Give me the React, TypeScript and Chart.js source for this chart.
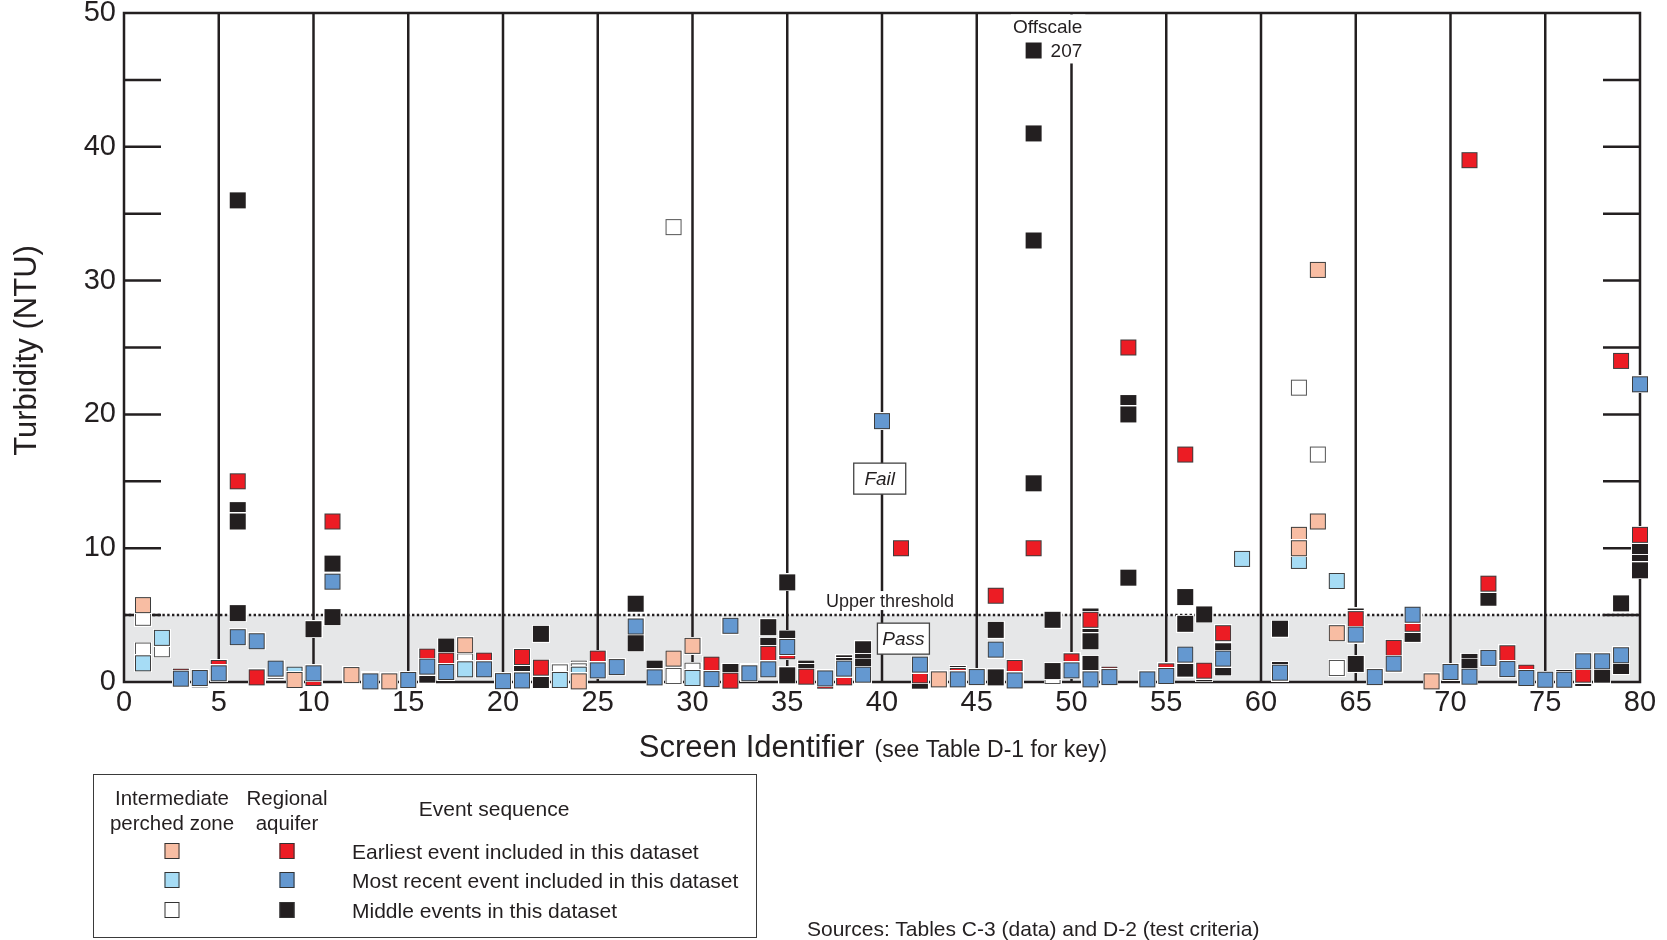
import React, { useEffect, useRef } from "react";
import { Chart, registerables } from "chart.js";

Chart.register(...registerables);

// ---------- data ----------
type Pt = [number, number]; // [screen identifier, turbidity (NTU)]

const screenMin = 0;
const screenMax = 80;
const screenTickStep = 5;
const turbidityMin = 0;
const turbidityMax = 50;
const turbidityTickStep = 10;
const turbidityMinorStep = 5;
const dividerScreens = [5, 10, 15, 20, 25, 30, 35, 40, 45, 50, 55, 60, 65, 70, 75];
const upperThreshold = 5;
const offscaleScreen = 48;
const offscalePlotted = 47.2;
const offscaleActual = 207;

// Intermediate perched zone
const perchedEarliest: Pt[] = [
  [1, 5.75], [9, 0.15], [12, 0.52], [14, 0.05], [18, 2.75], [24, 0.05], [29, 1.75],
  [30, 2.7], [43, 0.2], [62, 11], [62, 10], [63, 30.8], [63, 12], [64, 3.65], [69, 0.05],
];
const perchedRecent: Pt[] = [
  [1, 1.4], [2, 3.3], [9, 0.55], [18, 0.95], [23, 0.15], [24, 0.55], [30, 0.3],
  [59, 9.2], [62, 9.05], [64, 7.55],
];
const perchedMiddle: Pt[] = [
  [1, 4.8], [1, 2.35], [2, 2.45], [18, 1.55], [23, 0.72], [24, 1.0], [24, 0.8],
  [29, 34], [29, 0.8], [29, 0.45], [30, 0.85], [49, 0.45], [62, 22], [63, 17], [64, 1.05],
];

// Regional aquifer
const regionalEarliest: Pt[] = [
  [3, 0.4], [4, 0.2], [5, 1.05], [6, 15], [7, 0.35], [10, 0.3], [11, 12], [16, 1.9],
  [17, 1.6], [19, 1.6], [21, 1.87], [22, 1.07], [25, 1.75], [31, 1.3], [32, 0.1],
  [33, 0.75], [34, 2.1], [35, 2.3], [36, 0.4], [37, 0.1], [38, 0.35], [41, 10],
  [42, 0.5], [44, 0.45], [46, 6.45], [47, 1.05], [48, 10], [50, 1.55], [51, 4.65],
  [52, 0.55], [53, 25], [55, 0.8], [56, 17], [57, 0.85], [58, 3.65], [65, 4.7],
  [67, 2.55], [68, 4.35], [71, 39], [72, 7.35], [73, 2.15], [74, 0.7], [77, 0.55],
  [79, 24], [80, 11],
];
const regionalRecent: Pt[] = [
  [3, 0.25], [4, 0.3], [5, 0.65], [6, 3.35], [7, 3.05], [8, 1.0], [10, 0.65], [11, 7.5],
  [13, 0.05], [15, 0.15], [16, 1.15], [17, 0.75], [19, 0.95], [20, 0.07], [21, 0.12],
  [25, 0.87], [26, 1.12], [27, 4.15], [28, 0.35], [31, 0.22], [32, 4.2], [33, 0.65],
  [34, 0.95], [35, 2.62], [37, 0.27], [38, 1.0], [39, 0.55], [40, 19.5], [42, 1.3],
  [44, 0.2], [45, 0.37], [46, 2.42], [47, 0.12], [50, 0.87], [51, 0.2], [52, 0.37],
  [54, 0.2], [55, 0.45], [56, 2.05], [58, 1.75], [61, 0.7], [65, 3.55], [66, 0.37],
  [67, 1.37], [68, 5.03], [70, 0.75], [71, 0.4], [72, 1.8], [73, 0.97], [74, 0.3],
  [75, 0.17], [76, 0.17], [77, 1.55], [78, 1.55], [79, 2.0], [80, 22.25],
];
const regionalMiddle: Pt[] = [
  [6, 36], [6, 12.85], [6, 12.0], [6, 5.15], [8, 0.85], [10, 3.95], [11, 8.85], [11, 4.85],
  [13, 0.15], [16, 0.55], [17, 2.65], [21, 0.67], [22, 3.6], [22, 0.55], [22, 0.15],
  [27, 5.85], [27, 2.9], [28, 1.0], [32, 0.75], [34, 4.1], [34, 2.7], [35, 7.45],
  [35, 3.25], [35, 0.5], [36, 1.0], [36, 0.75], [38, 1.4], [38, 1.2], [39, 2.45],
  [39, 1.5], [39, 1.15], [42, 0.1], [44, 0.6], [46, 3.9], [46, 0.35],
  [offscaleScreen, offscalePlotted], [48, 41], [48, 33], [48, 14.85], [49, 4.65], [49, 0.82],
  [51, 4.9], [51, 4.3], [51, 3.05], [51, 1.35], [53, 20.85], [53, 20.0], [53, 7.8],
  [56, 6.35], [56, 4.35], [56, 1.0], [57, 5.05], [57, 0.65], [58, 2.3], [58, 1.1],
  [61, 3.98], [61, 0.9], [65, 4.9], [65, 1.35], [68, 3.6], [71, 1.5], [71, 1.15],
  [72, 6.3], [76, 0.3], [77, 0.3], [78, 0.55], [79, 5.88], [79, 1.2], [80, 10.15],
  [80, 8.9], [80, 8.35],
];

const zoneHeaders = ["Intermediate\nperched zone", "Regional\naquifer"];
const sequenceHeader = "Event sequence";
const sequenceLabels = [
  "Earliest event included in this dataset",
  "Most recent event included in this dataset",
  "Middle events in this dataset",
];
const yTitle = "Turbidity (NTU)";
const xTitleMain = "Screen Identifier";
const xTitleNote = "(see Table D-1 for key)";
const sourcesText = "Sources: Tables C-3 (data) and D-2 (test criteria)";

// ---------- styles ----------
const FONT = '"Liberation Sans", Arial, Helvetica, sans-serif';
const INK = "#231f20";
const COL = {
  salmon: "#f8bda3",
  lightBlue: "#a6dcf5",
  white: "#ffffff",
  red: "#ec1c24",
  blue: "#6498d0",
  black: "#231f20",
  edge: "#3d3d3d",
  band: "#e6e7e8",
};
const legendColors = [
  [COL.salmon, COL.red],
  [COL.lightBlue, COL.blue],
  [COL.white, COL.black],
];

function makeMarker(fill: string, edge: string): HTMLCanvasElement {
  const size = 16;
  const halo = 1;
  const s = size + 2 * halo;
  const c = document.createElement("canvas");
  c.width = s;
  c.height = s;
  const g = c.getContext("2d")!;
  g.fillStyle = "#ffffff";
  g.fillRect(0, 0, s, s);
  g.fillStyle = edge;
  g.fillRect(halo, halo, size, size);
  g.fillStyle = fill;
  g.fillRect(halo + 1, halo + 1, size - 2, size - 2);
  return c;
}

const framePlugin = {
  id: "frameAndNotes",
  beforeDatasetsDraw(chart: any) {
    const { ctx } = chart;
    const xs = chart.scales.x;
    const ys = chart.scales.y;
    const X = (v: number) => xs.getPixelForValue(v);
    const Y = (v: number) => ys.getPixelForValue(v);
    ctx.save();
    // pass band
    ctx.fillStyle = COL.band;
    ctx.fillRect(X(screenMin), Y(upperThreshold), X(screenMax) - X(screenMin), Y(0) - Y(upperThreshold));
    // dotted threshold
    ctx.strokeStyle = INK;
    ctx.lineWidth = 2.5;
    ctx.setLineDash([2.4, 2.4]);
    ctx.beginPath();
    ctx.moveTo(X(screenMin), Y(upperThreshold));
    ctx.lineTo(X(screenMax), Y(upperThreshold));
    ctx.stroke();
    ctx.setLineDash([]);
    // dividers
    ctx.lineWidth = 2.5;
    for (const s of dividerScreens) {
      ctx.beginPath();
      ctx.moveTo(X(s), Y(turbidityMin));
      ctx.lineTo(X(s), Y(turbidityMax));
      ctx.stroke();
    }
    // frame
    ctx.lineCap = "square";
    ctx.beginPath();
    ctx.moveTo(X(screenMin), Y(turbidityMin));
    ctx.lineTo(X(screenMin), Y(turbidityMax));
    ctx.lineTo(X(screenMax), Y(turbidityMax));
    ctx.lineTo(X(screenMax), Y(turbidityMin));
    ctx.closePath();
    ctx.stroke();
    ctx.lineCap = "butt";
    // inward ticks left and right
    const tl = 37;
    for (let v = turbidityMin + turbidityMinorStep; v < turbidityMax; v += turbidityMinorStep) {
      ctx.beginPath();
      ctx.moveTo(X(screenMin), Y(v));
      ctx.lineTo(X(screenMin) + tl, Y(v));
      ctx.moveTo(X(screenMax), Y(v));
      ctx.lineTo(X(screenMax) - tl, Y(v));
      ctx.stroke();
    }
    // Upper threshold label
    ctx.font = `18px ${FONT}`;
    ctx.textAlign = "center";
    ctx.textBaseline = "middle";
    const utx = X(40.42);
    const uty = Y(6.05);
    const utw = ctx.measureText("Upper threshold").width;
    ctx.fillStyle = "#ffffff";
    ctx.fillRect(utx - utw / 2 - 2, uty - 10, utw + 4, 19);
    ctx.fillStyle = INK;
    ctx.fillText("Upper threshold", utx, uty + 1);
    // Fail / Pass boxes
    const box = (label: string, cx: number, cy: number) => {
      const w = 52;
      const h = 31;
      ctx.fillStyle = "#ffffff";
      ctx.fillRect(cx - w / 2, cy - h / 2, w, h);
      ctx.strokeStyle = "#444444";
      ctx.lineWidth = 1.3;
      ctx.strokeRect(cx - w / 2, cy - h / 2, w, h);
      ctx.fillStyle = INK;
      ctx.font = `italic 19px ${FONT}`;
      ctx.fillText(label, cx, cy + 1);
    };
    box("Fail", X(39.88), Y(15.2));
    box("Pass", X(41.13), Y(3.24));
    // Offscale note
    const px = X(offscaleScreen);
    const py = Y(offscalePlotted);
    ctx.font = `19px ${FONT}`;
    const w1 = ctx.measureText("Offscale").width;
    const w2 = ctx.measureText(String(offscaleActual)).width;
    const cx1 = px + 14;
    const left = Math.min(cx1 - w1 / 2, px + 17) - 2;
    const right = Math.max(cx1 + w1 / 2, px + 17 + w2) + 3;
    ctx.fillStyle = "#ffffff";
    ctx.fillRect(left, py - 36, right - left, 49);
    ctx.fillStyle = INK;
    ctx.textAlign = "center";
    ctx.fillText("Offscale", cx1, py - 23);
    ctx.textAlign = "left";
    ctx.fillText(String(offscaleActual), px + 17, py + 1);
    ctx.restore();
  },
  afterDraw(chart: any) {
    const { ctx, chartArea } = chart;
    ctx.save();
    ctx.fillStyle = INK;
    // x title
    ctx.textBaseline = "alphabetic";
    ctx.textAlign = "left";
    ctx.font = `31px ${FONT}`;
    const wMain = ctx.measureText(xTitleMain).width;
    ctx.font = `23px ${FONT}`;
    const wNote = ctx.measureText(xTitleNote).width;
    const gap = 10;
    const total = wMain + gap + wNote;
    const start = 873 - total / 2;
    ctx.font = `31px ${FONT}`;
    ctx.fillText(xTitleMain, start, 757);
    ctx.font = `23px ${FONT}`;
    ctx.fillText(xTitleNote, start + wMain + gap, 757);
    // y title
    ctx.translate(27, (chartArea.top + chartArea.bottom) / 2 + 3);
    ctx.rotate(-Math.PI / 2);
    ctx.textAlign = "center";
    ctx.textBaseline = "middle";
    ctx.font = `31px ${FONT}`;
    ctx.fillText(yTitle, 0, 0);
    ctx.restore();
  },
};

export default function App() {
  const ref = useRef<HTMLCanvasElement | null>(null);

  useEffect(() => {
    if (!ref.current) return;
    const mk = (pts: Pt[]) => pts.map(([x, y]) => ({ x, y }));
    const series = [
      { label: "Perched zone, middle events", pts: perchedMiddle, fill: COL.white, edge: "#555555", order: 7 },
      { label: "Regional aquifer, middle events", pts: regionalMiddle, fill: COL.black, edge: COL.black, order: 6 },
      { label: "Regional aquifer, earliest event", pts: regionalEarliest, fill: COL.red, edge: COL.edge, order: 5 },
      { label: "Regional aquifer, most recent event", pts: regionalRecent, fill: COL.blue, edge: COL.edge, order: 4 },
      { label: "Perched zone, most recent event", pts: perchedRecent, fill: COL.lightBlue, edge: COL.edge, order: 2 },
      { label: "Perched zone, earliest event", pts: perchedEarliest, fill: COL.salmon, edge: COL.edge, order: 1 },
    ];
    const chart = new Chart(ref.current, {
      type: "scatter",
      data: {
        datasets: series.map((s) => ({
          label: s.label,
          data: mk(s.pts),
          order: s.order,
          pointStyle: makeMarker(s.fill, s.edge),
          pointRadius: 9,
          pointHoverRadius: 9,
          backgroundColor: s.fill,
          borderColor: s.edge,
          clip: false,
        })),
      },
      options: {
        responsive: false,
        animation: false,
        events: [],
        layout: { padding: { left: 0, top: 13, right: 27, bottom: 0 } },
        plugins: { legend: { display: false }, tooltip: { enabled: false } },
        scales: {
          x: {
            type: "linear",
            position: "bottom",
            min: screenMin,
            max: screenMax,
            grid: { display: false, drawTicks: false },
            border: { display: false },
            ticks: { stepSize: screenTickStep, color: INK, font: { family: FONT, size: 29 }, padding: 4, maxRotation: 0, autoSkip: false },
            afterFit: (s: any) => {
              s.height = 258;
              s.paddingLeft = 0;
              s.paddingRight = 0;
            },
          },
          y: {
            type: "linear",
            position: "left",
            min: turbidityMin,
            max: turbidityMax,
            grid: { display: false, drawTicks: false },
            border: { display: false },
            ticks: { stepSize: turbidityTickStep, color: INK, font: { family: FONT, size: 29 }, padding: 8 },
            afterFit: (s: any) => {
              s.width = 124;
              s.paddingTop = 0;
              s.paddingBottom = 0;
            },
          },
        },
      },
      plugins: [framePlugin],
    } as any);
    return () => chart.destroy();
  }, []);

  const sq = (color: string) => ({
    position: "absolute" as const,
    width: 15,
    height: 16,
    background: color,
    border: "1px solid #333",
    boxSizing: "border-box" as const,
    transform: "translate(-50%, -50%)",
  });
  const rowY = [76, 105, 135];
  const colX = [78, 193];

  return (
    <div style={{ position: "absolute", left: 0, top: 0, width: 1667, height: 940, background: "#fff", fontFamily: FONT, color: INK, overflow: "hidden" }}>
      <canvas ref={ref} width={1667} height={940} style={{ position: "absolute", left: 0, top: 0, width: 1667, height: 940 }} />
      <div style={{ position: "absolute", left: 93, top: 774, width: 664, height: 164, border: "1.5px solid #3a3a3a", boxSizing: "border-box", fontSize: 21 }}>
        {zoneHeaders.map((h, i) => (
          <div key={h} style={{ position: "absolute", left: colX[i], top: 35, transform: "translate(-50%, -50%)", textAlign: "center", whiteSpace: "pre", lineHeight: "25px", fontSize: 20.5 }}>
            {h}
          </div>
        ))}
        <div style={{ position: "absolute", left: 400, top: 33, transform: "translate(-50%, -50%)", whiteSpace: "nowrap", lineHeight: 1 }}>{sequenceHeader}</div>
        {sequenceLabels.map((t, i) => (
          <React.Fragment key={t}>
            <div style={{ ...sq(legendColors[i][0]), left: colX[0], top: rowY[i] }} />
            <div style={{ ...sq(legendColors[i][1]), left: colX[1], top: rowY[i] }} />
            <div style={{ position: "absolute", left: 258, top: rowY[i], transform: "translateY(-50%)", whiteSpace: "nowrap", lineHeight: 1 }}>{t}</div>
          </React.Fragment>
        ))}
      </div>
      <div style={{ position: "absolute", left: 807, top: 928, transform: "translateY(-50%)", fontSize: 21, whiteSpace: "nowrap", lineHeight: 1 }}>{sourcesText}</div>
    </div>
  );
}
